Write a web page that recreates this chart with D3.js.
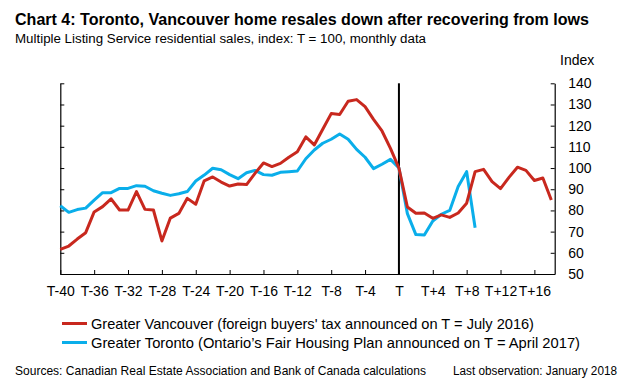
<!DOCTYPE html>
<html>
<head>
<meta charset="utf-8">
<script src="https://cdn.jsdelivr.net/npm/d3@7"></script>
<style>
  body { margin: 0; background: #fff; }
  svg { display: block; font-family: "Liberation Sans", Arial, sans-serif; }
</style>
</head>
<body>
<svg id="chart" width="626" height="387"></svg>
<script>
// months relative to the announcement (T = 0)
const vanMonths = d3.range(-40, 19);
const torMonths = d3.range(-40, 10);

// Greater Vancouver, index T = 100
const vancouver = [
  61.6, 63.2, 66.5, 69.5, 79.3, 81.8, 85.5, 80.2, 80.2, 88.9,
  80.5, 80.2, 65.6, 76.4, 78.6, 85.7, 82.9, 94.0, 95.8, 93.4,
  91.5, 92.5, 92.2, 97.5, 102.4, 100.7, 102.2, 105.1, 107.7, 114.7,
  110.9, 118.3, 125.7, 125.3, 131.5, 132.3, 129.0, 123.0, 117.5, 109.3,
  100.0, 81.6, 78.7, 78.8, 76.3, 77.9, 76.7, 78.8, 83.4, 98.3,
  99.4, 93.6, 90.3, 95.6, 100.4, 98.9, 94.1, 95.3, 84.9
];

// Greater Toronto, index T = 100
const toronto = [
  82.2, 79.1, 80.4, 81.1, 84.9, 88.4, 88.4, 90.4, 90.4, 91.7,
  91.4, 89.3, 88.1, 87.1, 87.9, 88.9, 93.9, 96.7, 99.9, 99.2,
  96.9, 95.0, 97.8, 98.9, 96.9, 96.6, 98.0, 98.3, 98.6, 104.4,
  108.5, 111.7, 113.6, 116.1, 113.6, 108.8, 105.1, 99.7, 101.8, 104.1,
  100.0, 78.5, 68.6, 68.4, 75.0, 78.2, 80.0, 91.3, 98.3, 71.8
];

const xTicks = d3.range(-40, 17, 4);
const yTicks = d3.range(50, 141, 10);

const legendItems = [
  { label: "Greater Vancouver (foreign buyers' tax announced on T = July 2016)", color: "#c8281e", len: 443 },
  { label: "Greater Toronto (Ontario\u2019s Fair Housing Plan announced on T = April 2017)", color: "#0aaeea", len: 489 }
];

const svg = d3.select("#chart");

const plot = { left: 60.3, right: 554.7, top: 83.3, bottom: 274 };

const x = d3.scaleLinear().domain([-40, 18.4]).range([plot.left, plot.right]);
const y = d3.scaleLinear().domain([50, 140]).range([plot.bottom, plot.top]);

// titles
svg.append("text")
  .attr("x", 15).attr("y", 25)
  .attr("font-size", 16).attr("font-weight", "bold")
  .attr("textLength", 574).attr("lengthAdjust", "spacingAndGlyphs")
  .text("Chart 4: Toronto, Vancouver home resales down after recovering from lows");

svg.append("text")
  .attr("x", 15).attr("y", 43)
  .attr("font-size", 12.5)
  .attr("textLength", 411).attr("lengthAdjust", "spacingAndGlyphs")
  .text("Multiple Listing Service residential sales, index: T = 100, monthly data");

svg.append("text")
  .attr("x", 560).attr("y", 65)
  .attr("font-size", 14)
  .text("Index");

// axes
const fmt = (m) => (m === 0 ? "T" : m < 0 ? "T" + m : "T+" + m);

const xAxis = svg.append("g")
  .attr("transform", `translate(0, ${plot.bottom})`)
  .call(d3.axisBottom(x).tickValues(xTicks).tickFormat(fmt)
    .tickSize(-4).tickSizeOuter(0).tickPadding(12));

const yAxisRight = svg.append("g")
  .attr("transform", `translate(${plot.right}, 0)`)
  .call(d3.axisRight(y).tickValues(yTicks).tickSize(-4).tickSizeOuter(0).tickPadding(13.5));

const yAxisLeft = svg.append("g")
  .attr("transform", `translate(${plot.left}, 0)`)
  .call(d3.axisLeft(y).tickValues(yTicks).tickFormat("").tickSize(-4).tickSizeOuter(0));

[xAxis, yAxisRight, yAxisLeft].forEach((a) => {
  a.selectAll("path.domain").attr("stroke", "#000").attr("stroke-width", 1.2);
  a.selectAll(".tick line").attr("stroke", "#000").attr("stroke-width", 1);
  a.selectAll("text").attr("font-size", 14).attr("fill", "#000")
    .attr("font-family", "'Liberation Sans', Arial, sans-serif");
});

// vertical line at T
svg.append("line")
  .attr("x1", x(0)).attr("x2", x(0))
  .attr("y1", y(140)).attr("y2", y(50))
  .attr("stroke", "#000").attr("stroke-width", 2);

// series
const line = d3.line().x((d) => x(d[0])).y((d) => y(d[1]));

svg.append("path")
  .datum(torMonths.map((m, i) => [m, toronto[i]]))
  .attr("d", line)
  .attr("fill", "none")
  .attr("stroke", legendItems[1].color)
  .attr("stroke-width", 3)
  .attr("stroke-linejoin", "round");

svg.append("path")
  .datum(vanMonths.map((m, i) => [m, vancouver[i]]))
  .attr("d", line)
  .attr("fill", "none")
  .attr("stroke", legendItems[0].color)
  .attr("stroke-width", 3)
  .attr("stroke-linejoin", "round");

// legend
const legend = svg.append("g").attr("transform", "translate(62, 323.5)");
legendItems.forEach((d, i) => {
  const g = legend.append("g").attr("transform", `translate(0, ${i * 19})`);
  g.append("line")
    .attr("x1", 0).attr("x2", 25)
    .attr("stroke", d.color).attr("stroke-width", 3);
  g.append("text")
    .attr("x", 29).attr("y", 5)
    .attr("font-size", 14.5)
    .attr("textLength", d.len).attr("lengthAdjust", "spacingAndGlyphs")
    .text(d.label);
});

// footer
svg.append("text")
  .attr("x", 15).attr("y", 375)
  .attr("font-size", 13)
  .attr("textLength", 411).attr("lengthAdjust", "spacingAndGlyphs")
  .text("Sources: Canadian Real Estate Association and Bank of Canada calculations");

svg.append("text")
  .attr("x", 617).attr("y", 375)
  .attr("text-anchor", "end")
  .attr("font-size", 12.5)
  .attr("textLength", 164).attr("lengthAdjust", "spacingAndGlyphs")
  .text("Last observation: January 2018");
</script>
</body>
</html>
